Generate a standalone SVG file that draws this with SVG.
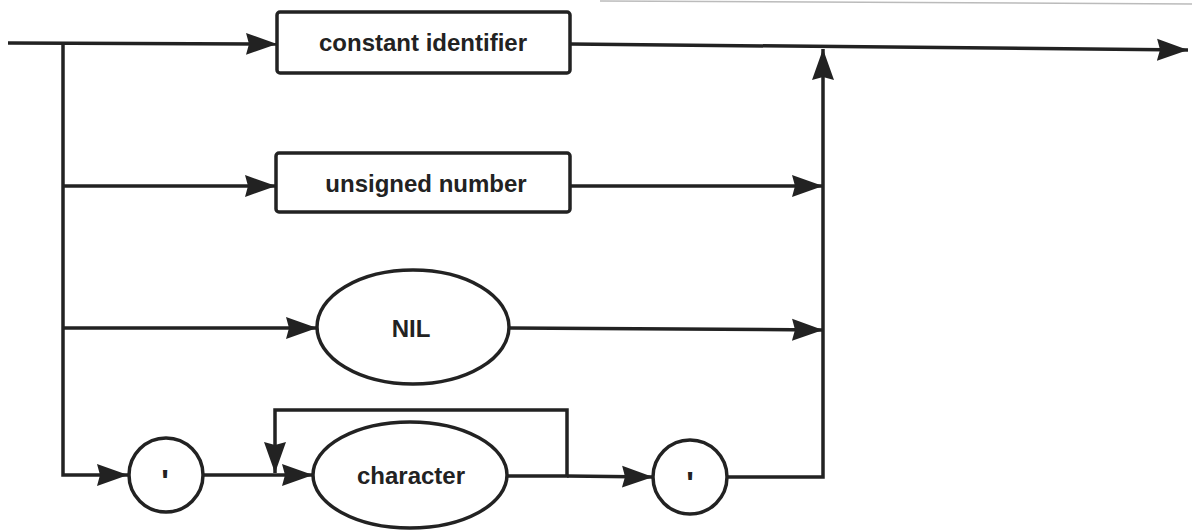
<svg xmlns="http://www.w3.org/2000/svg" width="1192" height="530" viewBox="0 0 1192 530">
  <defs>
    <marker id="arr" markerUnits="userSpaceOnUse" markerWidth="32" markerHeight="24" viewBox="0 0 32 24" refX="31" refY="12" orient="auto">
      <path d="M0,1 L31,12 L0,23 L3,12 Z" fill="#222"/>
    </marker>
    <style>
      .ln { fill: none; stroke: #222; stroke-width: 3.5; stroke-linejoin: miter; }
      .shape { fill: #fff; stroke: #222; stroke-width: 3.5; }
      .lbl { font-family: "Liberation Sans", Arial, sans-serif; font-weight: bold; font-size: 24px; fill: #222; text-anchor: middle; }
      .tick { font-family: "Liberation Sans", Arial, sans-serif; font-weight: bold; font-size: 32px; fill: #222; text-anchor: middle; }
    </style>
  </defs>
  <rect x="0" y="0" width="1192" height="530" fill="#fff"/>
  <line x1="600" y1="1" x2="1192" y2="4" stroke="#bbb" stroke-width="1.5"/>

  <g id="connectors">
    <polyline class="ln" points="8,43 277,44" marker-end="url(#arr)"/>
    <polyline class="ln" points="63,43 63,475 128,475" marker-end="url(#arr)"/>
    <polyline class="ln" points="63,186 276,186" marker-end="url(#arr)"/>
    <polyline class="ln" points="63,328 317,328" marker-end="url(#arr)"/>
    <polyline class="ln" points="570,44 1188,50" marker-end="url(#arr)"/>
    <polyline class="ln" points="570,186 823,186" marker-end="url(#arr)"/>
    <polyline class="ln" points="510,328 823,330" marker-end="url(#arr)"/>
    <polyline class="ln" points="203,475 313,475" marker-end="url(#arr)"/>
    <polyline class="ln" points="507,476 567,476 567,410 275,410 275,473" marker-end="url(#arr)"/>
    <polyline class="ln" points="567,476 653,477" marker-end="url(#arr)"/>
    <polyline class="ln" points="727,477 823,477 823,49" marker-end="url(#arr)"/>
  </g>

  <g id="node-constant-identifier">
    <rect class="shape" x="277" y="12" width="293" height="61" rx="3"/>
    <text class="lbl" x="423" y="51">constant identifier</text>
  </g>
  <g id="node-unsigned-number">
    <rect class="shape" x="276" y="153" width="294" height="59" rx="3"/>
    <text class="lbl" x="426" y="192">unsigned number</text>
  </g>
  <g id="node-nil">
    <ellipse class="shape" cx="413" cy="327" rx="96" ry="57"/>
    <text class="lbl" x="411" y="337">NIL</text>
  </g>
  <g id="node-quote-open">
    <ellipse class="shape" cx="166" cy="475" rx="37" ry="37"/>
    <text class="tick" x="165" y="492">'</text>
  </g>
  <g id="node-character">
    <ellipse class="shape" cx="410" cy="475" rx="97" ry="53"/>
    <text class="lbl" x="411" y="484">character</text>
  </g>
  <g id="node-quote-close">
    <ellipse class="shape" cx="690" cy="477" rx="37" ry="37"/>
    <text class="tick" x="690" y="494">'</text>
  </g>
</svg>
